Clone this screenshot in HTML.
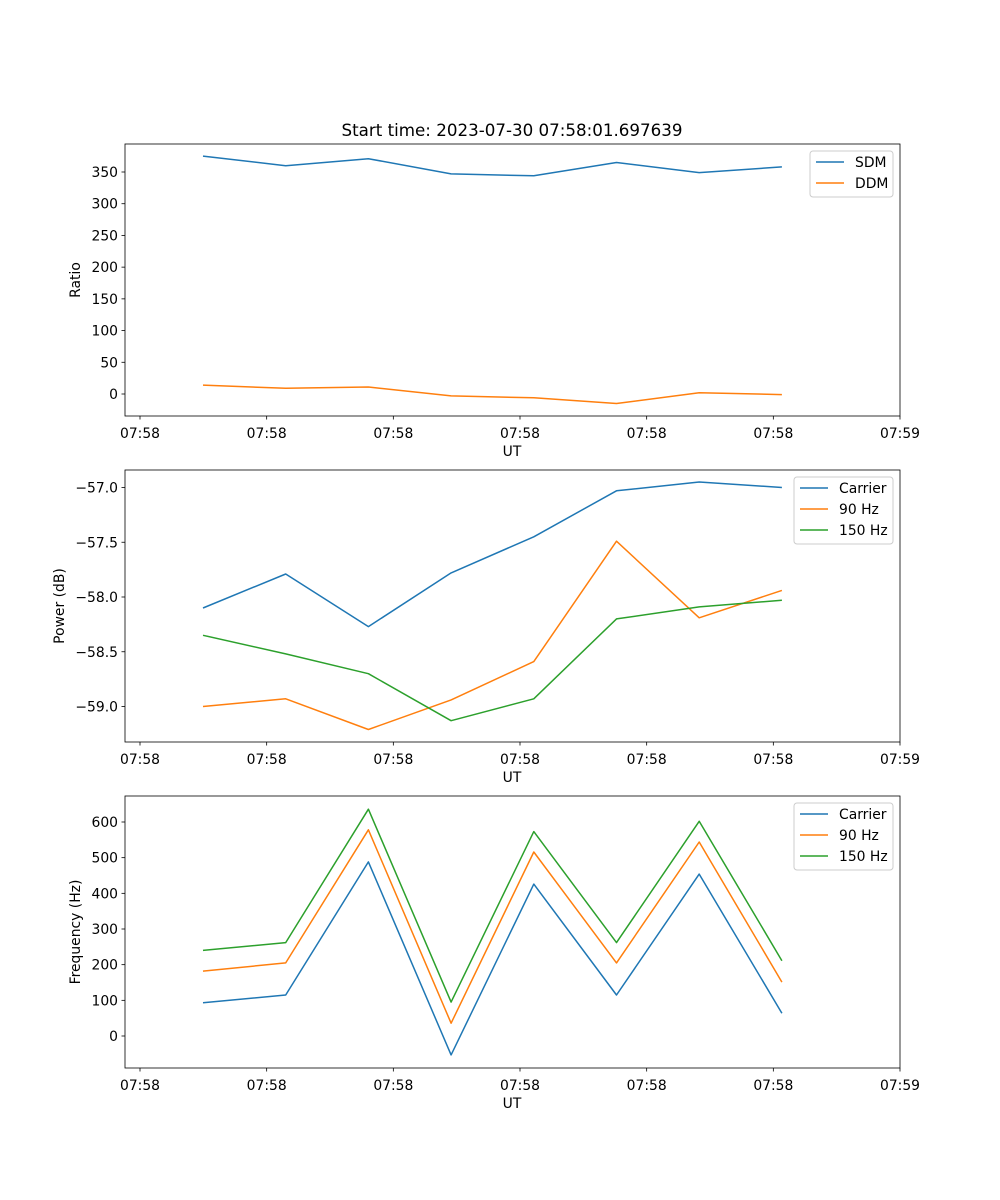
<!DOCTYPE html>
<html><head><meta charset="utf-8"><style>
html,body{margin:0;padding:0;background:#fff;}
svg{display:block;font-family:"DejaVu Sans","Liberation Sans",sans-serif;}
</style></head><body>
<svg id="fig" width="1000" height="1200" viewBox="0 0 1000 1200" xmlns="http://www.w3.org/2000/svg">
<rect width="1000" height="1200" fill="#fff"/>
<text x="512" y="136" font-size="16.7" text-anchor="middle">Start time: 2023-07-30 07:58:01.697639</text>
</svg>
<script>
// shared x data (seconds after 07:58:00)
const times = [4.97, 11.50, 18.03, 24.56, 31.09, 37.62, 44.15, 50.68];
const xTicks = [0, 10, 20, 30, 40, 50, 60];
const xTickLabels = ["07:58","07:58","07:58","07:58","07:58","07:58","07:59"];

// panel 1
const sdm = [375, 360, 371, 347, 344, 365, 349, 358];
const ddm = [14, 9, 11, -3, -6, -15, 2, -1];
const ratioTicks = [0, 50, 100, 150, 200, 250, 300, 350];
// panel 2
const powCarrier = [-58.10, -57.79, -58.27, -57.78, -57.45, -57.03, -56.95, -57.00];
const pow90 = [-59.00, -58.93, -59.21, -58.94, -58.59, -57.49, -58.19, -57.94];
const pow150 = [-58.35, -58.52, -58.70, -59.13, -58.93, -58.20, -58.09, -58.03];
const powTicks = [-59.0, -58.5, -58.0, -57.5, -57.0];
// panel 3
const freqCarrier = [93, 115, 488, -53, 426, 115, 454, 64];
const freq90 = [182, 205, 578, 36, 516, 205, 544, 151];
const freq150 = [240, 262, 636, 95, 573, 262, 602, 211];
const freqTicks = [0, 100, 200, 300, 400, 500, 600];

const NS = "http://www.w3.org/2000/svg";
const svg = document.getElementById('fig');
const C = ["#1f77b4", "#ff7f0e", "#2ca02c"];
function mk(tag, attrs, parent) {
  const e = document.createElementNS(NS, tag);
  for (const k in attrs) e.setAttribute(k, attrs[k]);
  (parent || svg).appendChild(e);
  return e;
}
const L = 125, R = 900;
function xScale(t) { return 140 + (t - 0) * (760 / 60); }

function panel(cfg) {
  const g = mk('g', {});
  
  
  const T = cfg.top, B = cfg.top + 272;
  const yS = v => cfg.y0px + (v - cfg.y0) * cfg.k;
  cfg.series.forEach((s, i) => {
    const pts = s.data.map((v, j) => xScale(times[j]).toFixed(1) + ',' + yS(v).toFixed(1)).join(' ');
    const p = mk('polyline', {points: pts, fill: 'none', stroke: C[i], 'stroke-width': 1.5, 'stroke-linejoin': 'round'}, g);
    
    
  });
  const box = mk('rect', {x: L, y: T, width: R - L, height: B - T, fill: 'none', stroke: '#000', 'stroke-width': 0.8}, g);
  
  
  xTicks.forEach((t, i) => {
    const x = xScale(t);
    mk('line', {x1: x, x2: x, y1: B, y2: B + 3.5, stroke: '#000', 'stroke-width': 0.8}, g);
    const tx = mk('text', {x: x, y: B + 22, 'font-size': 13.9, 'text-anchor': 'middle'}, g);
    
    
    tx.textContent = xTickLabels[i];
  });
  const xl = mk('text', {x: 512, y: B + 40, 'font-size': 13.9, 'text-anchor': 'middle'}, g);
  
  
  xl.textContent = 'UT';
  cfg.ticks.forEach(v => {
    const y = yS(v);
    mk('line', {x1: L - 3.5, x2: L, y1: y, y2: y, stroke: '#000', 'stroke-width': 0.8}, g);
    const tx = mk('text', {x: L - 7, y: y + 5, 'font-size': 13.9, 'text-anchor': 'end'}, g);
    
    
    tx.textContent = cfg.fmt(v);
  });
  const yl = mk('text', {x: cfg.ylx, y: T + 136, 'font-size': 13.9, 'text-anchor': 'middle', transform: `rotate(-90 ${cfg.ylx} ${T + 136})`}, g);
  
  
  yl.textContent = cfg.ylabel;
  const lw = cfg.legW, lx = R - 7 - lw, ly = T + 7, lh = 4 + cfg.series.length * 21;
  const lg = mk('g', {}, g);
  
  
  mk('rect', {x: lx, y: ly, width: lw, height: lh, rx: 3, fill: '#fff', 'fill-opacity': 0.8, stroke: '#ccc', 'stroke-width': 1}, lg);
  cfg.series.forEach((s, i) => {
    const yy = ly + 11 + i * 21;
    const e = mk('g', {}, lg);
    
    
    mk('line', {x1: lx + 6, x2: lx + 34, y1: yy, y2: yy, stroke: C[i], 'stroke-width': 1.5}, e);
    const t = mk('text', {x: lx + 45, y: yy + 5, 'font-size': 13.9}, e);
    t.textContent = s.label;
  });
}

panel({name: 'ratio-panel', top: 144, y0: 0, y0px: 394, k: -222 / 350, ticks: ratioTicks, fmt: v => String(v), ylabel: 'Ratio', ylx: 80, legW: 83,
  series: [{id: 'sdm', label: 'SDM', data: sdm}, {id: 'ddm', label: 'DDM', data: ddm}]});
panel({name: 'power-panel', top: 470, y0: -57.0, y0px: 487.5, k: -109.5, ticks: powTicks, fmt: v => '\u2212' + Math.abs(v).toFixed(1), ylabel: 'Power (dB)', ylx: 64, legW: 99,
  series: [{id: 'power-carrier', label: 'Carrier', data: powCarrier}, {id: 'power-90hz', label: '90 Hz', data: pow90}, {id: 'power-150hz', label: '150 Hz', data: pow150}]});
panel({name: 'frequency-panel', top: 796, y0: 0, y0px: 1036, k: -214 / 600, ticks: freqTicks, fmt: v => String(v), ylabel: 'Frequency (Hz)', ylx: 80, legW: 99,
  series: [{id: 'freq-carrier', label: 'Carrier', data: freqCarrier}, {id: 'freq-90hz', label: '90 Hz', data: freq90}, {id: 'freq-150hz', label: '150 Hz', data: freq150}]});
</script>
</body></html>
